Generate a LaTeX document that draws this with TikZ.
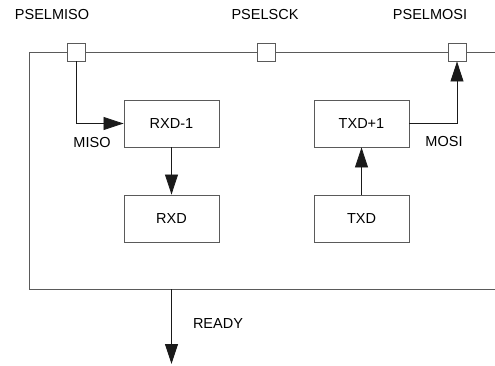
\documentclass[tikz,border=0pt]{standalone}
\usepackage{fontspec}
\setmainfont{Liberation Sans}
\usetikzlibrary{arrows.meta,positioning}
\definecolor{SPIInk}{HTML}{1A1A1A}
\definecolor{SPIFrame}{HTML}{5A5A5A}

\begin{document}
\begin{tikzpicture}[x=1pt,y=-1pt,line join=miter,
  font=\fontsize{14.5}{17}\selectfont,
  reg/.style={draw=SPIFrame,line width=0.9pt,minimum width=95pt,
    minimum height=47pt,inner sep=0pt},
  pin/.style={draw=SPIFrame,fill=white,line width=0.9pt,minimum size=18pt,
    inner sep=0pt},
  sig/.style={SPIInk,line width=0.8pt,-{Triangle[length=20pt,width=13pt]}}]
  \path[use as bounding box] (0,0) rectangle (495,366);

  % Module frame (its right side runs off the sheet).
  \draw[SPIFrame,line width=0.9pt] (495,52) -| (29,289) -- (495,289);

  % Port pins on the top edge and their names.
  \node[pin] (misoPin) at (76,52) {};
  \node[pin] (sckPin) at (266,52) {};
  \node[pin] (mosiPin) at (457,52) {};
  \node (misoName) at (52,15) {PSELMISO};
  \node (sckName) at (265,15) {PSELSCK};
  \node (mosiName) at (430,15) {PSELMOSI};

  % Shift registers and buffers.
  \node[reg] (rxdNext) at (171.5,123.5) {RXD-1};
  \node[reg] (rxd) at (171.5,218.5) {RXD};
  \node[reg] (txdNext) at (361.5,123.5) {TXD+1};
  \node[reg] (txd) at (361.5,218.5) {TXD};

  \draw[sig] (misoPin.south) |- (rxdNext.west);
  \draw[sig] (rxdNext) -- (rxd);
  \draw[sig] (txd) -- (txdNext);
  \draw[sig] (txdNext.east) -| (mosiPin.south);
  \node (misoSig) at (92,143) {MISO};
  \node (mosiSig) at (444,142) {MOSI};

  % Event out of the module.
  \coordinate (readyStart) at (171.5,289);
  \coordinate (readyEnd) at (171.5,364);
  \draw[sig] (readyStart) -- (readyEnd);
  \node (readyName) at (218,324) {READY};
\end{tikzpicture}
\end{document}
